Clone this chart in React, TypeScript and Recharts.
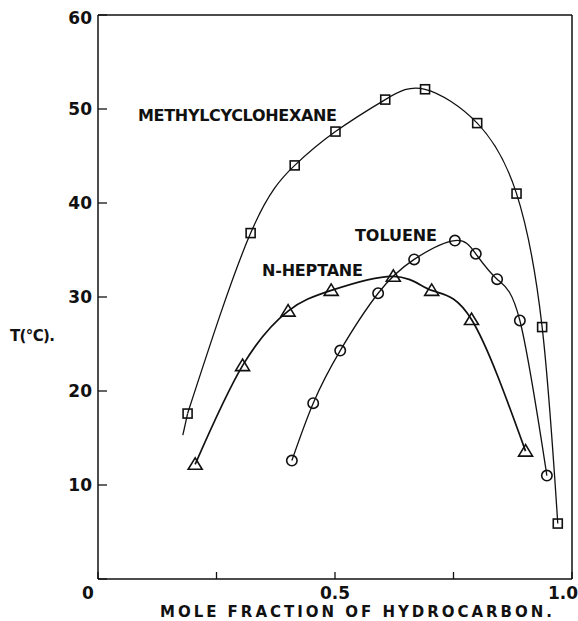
import { ComposedChart, Line, Scatter, XAxis, YAxis } from "recharts";

// methylcyclohexane (squares)
const mchX = [0.189, 0.322, 0.415, 0.501, 0.606, 0.69, 0.8, 0.883, 0.937, 0.97];
const mchT = [17.6, 36.8, 44.0, 47.6, 51.0, 52.1, 48.5, 41.0, 26.8, 5.9];
// the drawn curve runs on a little below the first square
const mchTailX = [0.179, 0.189];
const mchTailT = [15.3, 17.6];

// toluene (circles)
const tolX = [0.409, 0.454, 0.511, 0.591, 0.667, 0.753, 0.797, 0.842, 0.89, 0.947];
const tolT = [12.6, 18.7, 24.3, 30.4, 34.0, 36.0, 34.6, 31.9, 27.5, 11.0];

// n-heptane (triangles)
const hepX = [0.205, 0.305, 0.401, 0.492, 0.623, 0.704, 0.788, 0.902];
const hepT = [12.2, 22.7, 28.5, 30.7, 32.2, 30.7, 27.6, 13.6];

const xTicks = [0, 0.25, 0.5, 0.75, 1];
const xTickLabels = ["0", "", "0.5", "", "1.0"];
const yTicks = [0, 10, 20, 30, 40, 50, 60];
const yRightTicks = [10, 20, 30, 40, 50];

const ink = "#111";
const font = "'DejaVu Sans', sans-serif";

const pts = (xs: number[], ts: number[]) => xs.map((x, i) => ({ x, t: ts[i] }));

const mch = pts(mchX, mchT);
const mchTail = pts(mchTailX, mchTailT);
const tol = pts(tolX, tolT);
const hep = pts(hepX, hepT);

const Square = (p: any) => (
  <rect x={p.cx - 4.5} y={p.cy - 4.5} width={9} height={9} fill="none" stroke={ink} strokeWidth={1.6} />
);
const Ring = (p: any) => <circle cx={p.cx} cy={p.cy} r={5.2} fill="none" stroke={ink} strokeWidth={1.6} />;
const Tri = (p: any) => (
  <polygon
    points={`${p.cx},${p.cy - 6.5} ${p.cx - 7},${p.cy + 5} ${p.cx + 7},${p.cy + 5}`}
    fill="none"
    stroke={ink}
    strokeWidth={1.6}
  />
);

const XTick = (p: any) => {
  const i = xTicks.indexOf(p.payload.value);
  const label = xTickLabels[i] ?? "";
  const dx = i === 0 ? -10 : i === xTicks.length - 1 ? -9 : 0;
  return (
    <text x={p.x + dx} y={p.y} dy="0.71em" textAnchor="middle" fontFamily={font} fontWeight="bold" fontSize={17} fill={ink}>
      {label}
    </text>
  );
};

const lbl = { fontFamily: font, fontWeight: "bold" as const, fill: ink };
const frame = { stroke: ink, strokeWidth: 1.5 };
const tickStroke = { stroke: ink, strokeWidth: 1.3 };
const curve = { xAxisId: "b", yAxisId: "l", dataKey: "t", stroke: ink, dot: false, activeDot: false, isAnimationActive: false };

export default function App() {
  return (
    <div style={{ position: "absolute", left: 8, top: 8 }}>
      <ComposedChart width={570} height={613} margin={{ top: 6, right: 5, left: 0, bottom: 0 }}>
        <XAxis
          xAxisId="b"
          type="number"
          dataKey="x"
          domain={[0, 1]}
          ticks={xTicks}
          height={42}
          tickSize={-7}
          tickMargin={15}
          tick={<XTick />}
          axisLine={frame}
          tickLine={tickStroke}
        />
        <XAxis
          xAxisId="t"
          orientation="top"
          type="number"
          domain={[0, 1]}
          ticks={[0.25, 0.5, 0.75]}
          height={1}
          tickSize={-8}
          tickFormatter={() => ""}
          axisLine={frame}
          tickLine={tickStroke}
        />
        <YAxis
          yAxisId="l"
          type="number"
          dataKey="t"
          domain={[0, 60]}
          ticks={yTicks}
          width={90}
          tickSize={-9}
          tickMargin={15}
          tick={{ fontFamily: font, fontWeight: "bold", fontSize: 17, fill: ink }}
          tickFormatter={(v: number) => (v === 0 ? "" : String(v))}
          axisLine={frame}
          tickLine={tickStroke}
        />
        <YAxis
          yAxisId="r"
          orientation="right"
          type="number"
          domain={[0, 60]}
          ticks={yRightTicks}
          width={1}
          tickSize={-9}
          tickFormatter={() => ""}
          axisLine={frame}
          tickLine={tickStroke}
        />

        <Line {...curve} data={mchTail} type="linear" strokeWidth={1.3} />
        <Line {...curve} data={mch} type="natural" strokeWidth={1.3} />
        <Line {...curve} data={tol} type="natural" strokeWidth={1.3} />
        <Line {...curve} data={hep} type="natural" strokeWidth={1.7} />

        <Scatter xAxisId="b" yAxisId="l" data={mch} dataKey="t" shape={Square} isAnimationActive={false} />
        <Scatter xAxisId="b" yAxisId="l" data={tol} dataKey="t" shape={Ring} isAnimationActive={false} />
        <Scatter xAxisId="b" yAxisId="l" data={hep} dataKey="t" shape={Tri} isAnimationActive={false} />

        <text x={130} y={113} fontSize={16} textLength={199} {...lbl}>METHYLCYCLOHEXANE</text>
        <text x={347} y={233} fontSize={16} textLength={82} {...lbl}>TOLUENE</text>
        <text x={254} y={268} fontSize={16} textLength={101} {...lbl}>N-HEPTANE</text>
        <text x={2} y={333} fontSize={15} textLength={45} {...lbl}>T(°C).</text>
        <text x={152} y={609} fontSize={15} textLength={392} {...lbl}>MOLE FRACTION  OF HYDROCARBON.</text>
      </ComposedChart>
    </div>
  );
}
